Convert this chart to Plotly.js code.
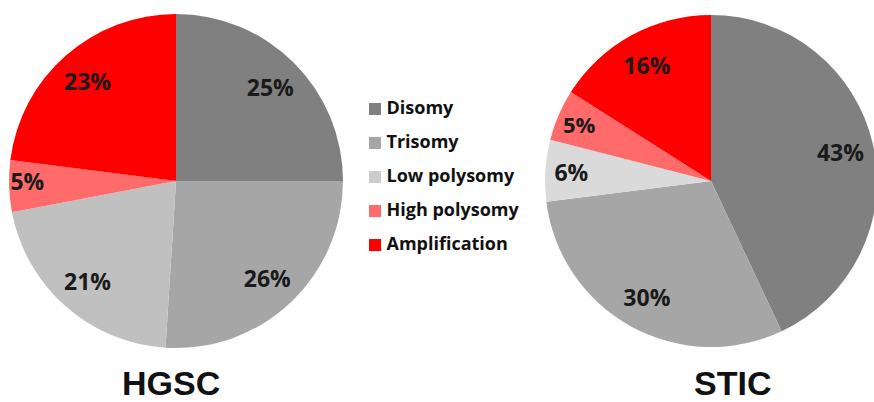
<!DOCTYPE html>
<html>
<head>
<meta charset="utf-8">
<script src="https://cdn.plot.ly/plotly-3.0.1.min.js"></script>
<style>
html,body{margin:0;padding:0;overflow:hidden;background:#fff;}
#chart{width:880px;height:402px;}
</style>
</head>
<body>
<div id="chart"></div>
<script>
const categories = ["Disomy", "Trisomy", "Low polysomy", "High polysomy", "Amplification"];
const hgscValues = [25, 26, 21, 5, 23];
const sticValues = [43, 30, 6, 5, 16];
const groupTitles = ["HGSC", "STIC"];

const W = 880, H = 402;
const colorsLeft = ["#808080", "#a6a6a6", "#c0c0c0", "#ff6b6b", "#ff0000"];
const colorsRight = ["#808080", "#a6a6a6", "#dadada", "#ff6b6b", "#ff0000"];
const legendColors = ["#808080", "#a6a6a6", "#cccccc", "#ff6b6b", "#ff0000"];
const textFont = {family: "Open Sans, Liberation Sans, sans-serif", size: 23, color: "#1a1a1a", weight: 700};
const clear = categories.map(() => "rgba(0,0,0,0)");

function dom(cx, cy, r) {
  return {x: [(cx - r) / W, (cx + r) / W], y: [1 - (cy + r) / H, 1 - (cy - r) / H]};
}

function pieBase(values, colors, d) {
  return {
    type: "pie", values: values, labels: categories, sort: false,
    direction: "clockwise", rotation: 0,
    marker: {colors: colors, line: {width: 0}},
    textinfo: "none", hoverinfo: "label+percent",
    domain: d, showlegend: false
  };
}
function pieText(values, d) {
  return {
    type: "pie", values: values, labels: categories, sort: false,
    direction: "clockwise", rotation: 0, hole: 0.6,
    marker: {colors: clear, line: {width: 0}},
    textinfo: "text", text: values.map(v => v + "%"),
    textposition: "inside", insidetextorientation: "horizontal",
    insidetextfont: textFont, hoverinfo: "skip",
    domain: d, showlegend: false
  };
}

const dL = dom(176, 181, 167);
const dR = dom(711, 181, 166);

const legendTrace = {
  type: "scatter", mode: "markers+text",
  x: categories.map(() => 15), y: categories.map((c, i) => i),
  text: categories, texttemplate: "\u2009%{text}", textposition: "middle right",
  marker: {symbol: "square", size: 12, color: legendColors},
  textfont: {family: "Open Sans, Liberation Sans, sans-serif", size: 18, color: "#111", weight: 700},
  cliponaxis: false, hoverinfo: "skip", showlegend: false,
  xaxis: "x", yaxis: "y"
};

const traces = [
  pieBase(hgscValues, colorsLeft, dL), pieText(hgscValues, dL),
  pieBase(sticValues, colorsRight, dR), pieText(sticValues, dR),
  legendTrace
];

const titleFont = {family: "Liberation Sans, Arial, sans-serif", size: 34, color: "#111", weight: 700};
const layout = {
  width: W, height: H,
  margin: {l: 0, r: 0, t: 0, b: 0},
  paper_bgcolor: "#fff", plot_bgcolor: "rgba(0,0,0,0)",
  showlegend: false,
  xaxis: {domain: [360 / W, 560 / W], range: [0, 200], visible: false, fixedrange: true},
  yaxis: {domain: [1 - 262 / H, 1 - 92 / H], range: [4.5, -0.5], visible: false, fixedrange: true},
  annotations: [
    {text: groupTitles[0], x: 171 / W, y: 1 - 383 / H, xref: "paper", yref: "paper",
     xanchor: "center", yanchor: "middle", showarrow: false, font: titleFont},
    {text: groupTitles[1], x: 732 / W, y: 1 - 383 / H, xref: "paper", yref: "paper",
     xanchor: "center", yanchor: "middle", showarrow: false, font: titleFont}
  ]
};

Plotly.newPlot("chart", traces, layout, {displayModeBar: false, staticPlot: true});
</script>
</body>
</html>
